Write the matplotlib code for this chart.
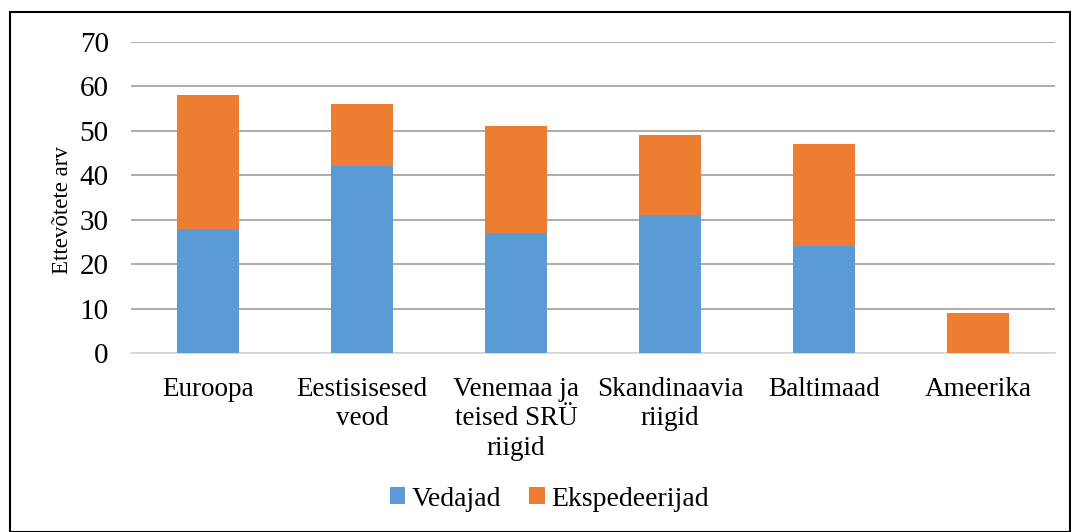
import matplotlib.pyplot as plt
from matplotlib.patches import Rectangle
import numpy as np

categories = ["Euroopa", "Eestisisesed\nveod", "Venemaa ja\nteised SRÜ\nriigid",
              "Skandinaavia\nriigid", "Baltimaad", "Ameerika"]
vedajad = [28, 42, 27, 31, 24, 0]
ekspedeerijad = [30, 14, 24, 18, 23, 9]
yticks = [0, 10, 20, 30, 40, 50, 60, 70]

plt.rcParams['font.family'] = ['Liberation Serif', 'DejaVu Serif']

fig = plt.figure(figsize=(10.71, 5.32), dpi=100)
ax = fig.add_axes([0.1223, 0.3365, 0.8627, 0.5846])

x = np.arange(len(categories))
ax.bar(x, vedajad, width=0.4, color='#5B9BD5', label='Vedajad', zorder=3)
ax.bar(x, ekspedeerijad, width=0.4, bottom=vedajad, color='#ED7D31',
       label='Ekspedeerijad', zorder=3)

ax.set_xlim(-0.5, len(categories) - 0.5)
ax.set_ylim(0, 70)
ax.set_yticks(yticks)
ax.set_yticklabels([str(t) for t in yticks], fontsize=21)
ax.set_xticks(x)
ax.set_xticklabels(categories, fontsize=19.5, linespacing=1.25, va='top')
ax.tick_params(axis='y', length=0, pad=16)
ax.tick_params(axis='x', length=0, pad=17)
ax.yaxis.grid(True, color='#A6A6A6', linewidth=1.3, zorder=0)
for s in ['top', 'right', 'left']:
    ax.spines[s].set_visible(False)
ax.spines['bottom'].set_color('#D9D9D9')
ax.spines['bottom'].set_linewidth(1.3)
ax.set_ylabel('Ettevõtete arv', fontsize=16.5)
ax.yaxis.set_label_coords(-0.063, 0.46)

fig.legend(loc='center', bbox_to_anchor=(0.513, 0.062), ncol=2, frameon=False,
           fontsize=20, handlelength=0.55, handleheight=0.55, handletextpad=0.25,
           columnspacing=1.0)

fig.patches.append(Rectangle((10 / 1071, 0), 1 - 10 / 1071 - 0.0005, 1 - 12 / 532,
                             transform=fig.transFigure, fill=False,
                             edgecolor='black', linewidth=1.5))

fig.savefig('out.png', dpi=100)
